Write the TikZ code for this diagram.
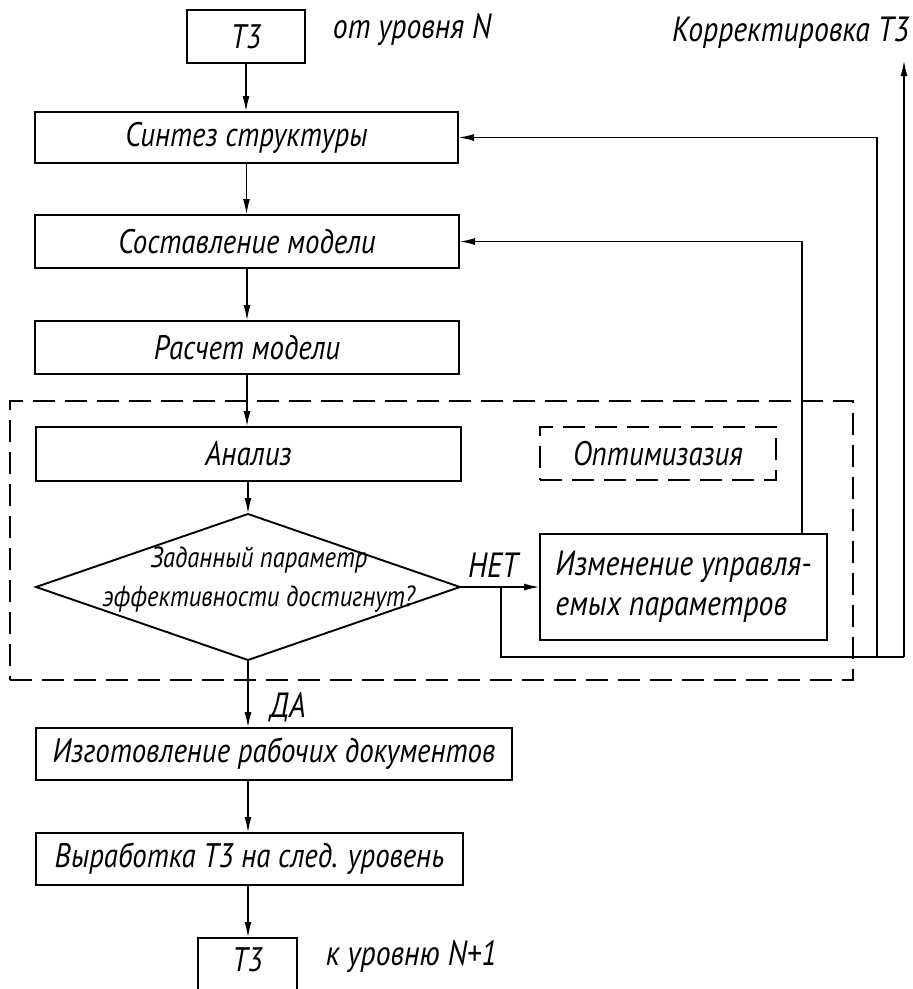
\documentclass[tikz,border=0pt]{standalone}
\usepackage{fontspec}
\newfontfamily\gost{PT Sans}[FakeStretch=0.85]
\usetikzlibrary{shapes.geometric,arrows.meta}
\begin{document}
\begin{tikzpicture}[x=1pt,y=-1pt,
  line width=1.9pt,
  box/.style={draw, rectangle, inner sep=0pt, outer sep=0pt, font=\gost\itshape\fontsize{34}{38}\selectfont},
  lab/.style={inner sep=0pt, font=\gost\itshape\fontsize{35}{38}\selectfont},
  small/.style={inner sep=0pt, align=center, font=\gost\itshape\fontsize{29}{39}\selectfont},
  arr/.style={-{Latex[length=16pt,width=7pt]}},
  dsh/.style={dash pattern=on 22pt off 10pt}]
\useasboundingbox[fill=white] (0,0) rectangle (913,989);

% boxes
\node[box, minimum width=118pt, minimum height=53pt] (tzA) at (246,36.5) {Т3};
\node[lab, anchor=west] (labA) at (332,30) {от уровня N};
\node[lab, anchor=east] (labK) at (910,33) {Корректировка Т3};
\node[box, minimum width=423pt, minimum height=51pt] (sint) at (246.5,137.5) {Синтез структуры};
\node[box, minimum width=424pt, minimum height=53pt] (sost) at (247,241.5) {Составление модели};
\node[box, minimum width=424pt, minimum height=53pt] (rasch) at (247,347.5) {Расчет модели};

% optimisation frame
\node[draw, dsh, minimum width=843pt, minimum height=279pt, inner sep=0pt, outer sep=0pt] (frame) at (431.5,540.5) {};
\node[box, minimum width=425pt, minimum height=54pt] (anal) at (248.5,454) {Анализ};
\node[box, dsh, minimum width=236pt, minimum height=53pt] (opt) at (658,453.5) {Оптимизазия};
\node[draw, diamond, minimum width=424pt, minimum height=146pt, inner sep=0pt, outer sep=0pt] (dia) at (248,587) {};
\node[small] (diat) at (259,580) {Заданный параметр\\эффективности достигнут?};
\node[box, minimum width=287pt, minimum height=106pt, align=left, font=\gost\itshape\fontsize{35}{40}\selectfont] (izm) at (683.5,587) {Изменение управля-\\емых параметров};

\node[box, minimum width=476pt, minimum height=52pt] (izg) at (274,754) {Изготовление рабочих документов};
\node[box, minimum width=427pt, minimum height=52pt] (vyr) at (249.5,859) {Выработка Т3 на след. уровень};
\node[box, minimum width=99pt, minimum height=62pt, text depth=18pt] (tzB) at (247.5,969) {Т3};
\node[lab, anchor=west] (labB) at (325,957) {к уровню N+1};

% labels
\node[lab] (da) at (288,707) {ДА};
\node[lab] (net) at (493,565) {НЕТ};

% main flow
\draw[arr] (tzA.south) -- (tzA.south |- sint.north);
\draw[arr] (sint.south) -- (sint.south |- sost.north);
\draw[arr] (sost.south) -- (sost.south |- rasch.north);
\draw[arr] (rasch.south) -- (rasch.south |- anal.north);
\draw[arr] (anal.south -| dia.north) -- (dia.north);
\draw[arr] (dia.south) -- (dia.south |- izg.north);
\draw[arr] (izg.south -| dia.south) -- (dia.south |- vyr.north);
\draw[arr] (vyr.south -| dia.south) -- (dia.south |- tzB.north);

% NO branch and feedback
\draw[arr] (dia.east) -- (izm.west);
\coordinate (spl) at ([xshift=41pt]dia.east);
\coordinate (cb) at (904,657);
\coordinate (kt) at (904,60);
\coordinate (c2) at (877,657);
\draw (spl) -- (spl |- cb) -- (cb);
\draw[arr] (cb) -- (kt);
\draw[arr] (c2) |- (sint.east);
\draw[arr] ([xshift=118.5pt]izm.north) |- (sost.east);
\end{tikzpicture}
\end{document}
